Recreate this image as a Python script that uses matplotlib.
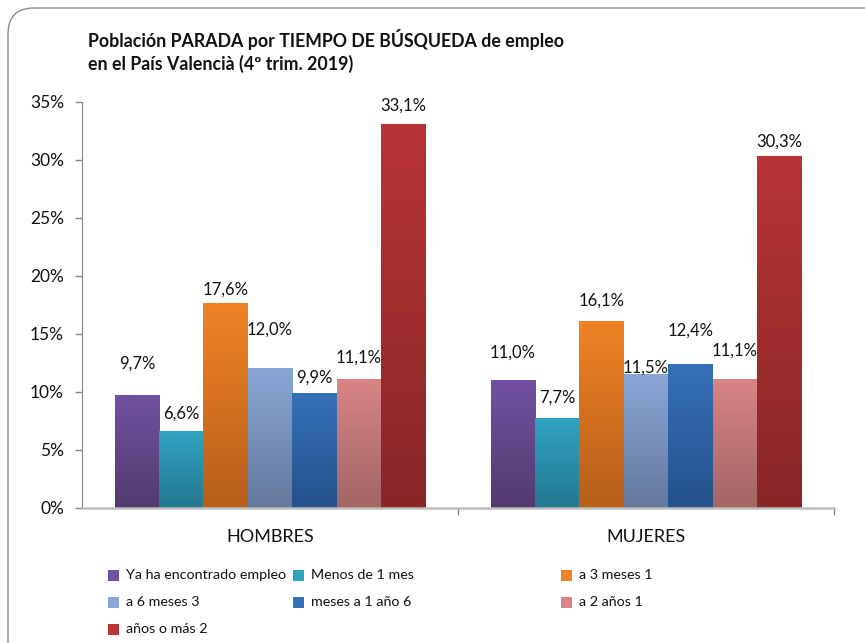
import numpy as np
import matplotlib
matplotlib.use("Agg")
import matplotlib.pyplot as plt
from matplotlib.colors import LinearSegmentedColormap
from matplotlib.patches import FancyBboxPatch, Rectangle

plt.rcParams['font.family'] = ['Lato', 'DejaVu Sans']

# ---- data ----
categories = ["HOMBRES", "MUJERES"]
series = ["Ya ha encontrado empleo", "Menos de 1 mes", "a 3 meses 1",
          "a 6 meses 3", "meses a 1 año 6", "a 2 años 1", "años o más 2"]
hombres = [9.7, 6.6, 17.6, 12.0, 9.9, 11.1, 33.1]
mujeres = [11.0, 7.7, 16.1, 11.5, 12.4, 11.1, 30.3]
yticks = [0, 5, 10, 15, 20, 25, 30, 35]

# ---- style ----
top_colors = ["#7151A1", "#31A3C1", "#F08325", "#8AA7D7", "#3571B9", "#D98585", "#B93434"]
bottom_colors = ["#533A6E", "#237890", "#B65E1A", "#63799C", "#25518A", "#A26565", "#882626"]
# vertical nudges (pixels) of the value labels above each bar
label_dy = [[32, 18, 14, 39, 16, 22, 18],
            [28, 21, 21, 7, 34, 29, 15]]

W, H = 865, 643
fig = plt.figure(figsize=(W / 100, H / 100), dpi=100)

# rounded chart-area border
frame = FancyBboxPatch((8 / W, -0.2), 1.2, (H - 8) / H + 0.2,
                       boxstyle="round,pad=0,rounding_size=0.03",
                       transform=fig.transFigure, fc="none", ec="#8C8C8C", lw=1.0,
                       mutation_aspect=W / H, zorder=-1)
fig.patches.append(frame)

ax = fig.add_axes([82 / W, 1 - 508 / H, (834 - 82) / W, (508 - 102) / H])
ax.set_facecolor("none")

n = len(series)
bw = 0.118
values = [hombres, mujeres]
grad = np.linspace(0, 1, 256)[:, None]
for j in range(n):
    xs = [ci + (j - (n - 1) / 2) * bw for ci in range(len(categories))]
    vals = [values[ci][j] for ci in range(len(categories))]
    bars = ax.bar(xs, vals, width=bw, color="none", zorder=2)
    cmap = LinearSegmentedColormap.from_list(f"g{j}", [bottom_colors[j], top_colors[j]])
    for ci, p in enumerate(bars):
        x0, w, h = p.get_x(), p.get_width(), p.get_height()
        ax.imshow(grad, extent=[x0, x0 + w, 0, h], origin="lower", cmap=cmap,
                  aspect="auto", zorder=2, interpolation="bicubic")
        ax.annotate(f"{vals[ci]:.1f}%".replace(".", ","), (p.get_x() + w / 2, h),
                    xytext=(0, label_dy[ci][j]), textcoords="offset pixels",
                    ha="center", va="center", fontsize=12, color="#111111", zorder=4)

ax.set_xlim(-0.5, len(categories) - 0.5)
ax.set_ylim(0, 35)
ax.set_yticks(yticks)
ax.set_yticklabels([f"{t}%" for t in yticks], fontsize=12.5, color="#111111")
ax.set_xticks([0.5, 1.5])
ax.set_xticklabels([])
for ci, c in enumerate(categories):
    ax.text(ci, -2.5, c, ha="center", va="center", fontsize=13, color="#111111")
ax.tick_params(axis="y", length=5, color="#868686", width=1, pad=8)
ax.tick_params(axis="x", length=5, color="#868686", width=1)
for s in ["top", "right"]:
    ax.spines[s].set_visible(False)
ax.spines["left"].set_color("#868686")
ax.spines["bottom"].set_color("#BDBDBD")
ax.spines["bottom"].set_linewidth(1.8)
ax.spines["bottom"].set_zorder(5)

# title
fig.text(88 / W, 1 - 40 / H, "Población PARADA por TIEMPO DE BÚSQUEDA de empleo",
         fontsize=12.8, fontweight="bold", ha="left", va="center", color="#111111")
fig.text(88 / W, 1 - 64 / H, "en el País Valencià (4º trim. 2019)",
         fontsize=12.8, fontweight="bold", ha="left", va="center", color="#111111")

# legend
col_x = [108, 293, 561]
row_y = [575, 602, 629]
for i, name in enumerate(series):
    cx, ry = col_x[i % 3], row_y[i // 3]
    fig.patches.append(Rectangle((cx / W, 1 - (ry + 5.5) / H), 11 / W, 11 / H,
                                 transform=fig.transFigure,
                                 fc=top_colors[i], ec="none"))
    fig.text((cx + 18) / W, 1 - ry / H, name, fontsize=10.3, ha="left", va="center",
             color="#111111")

fig.savefig("out.png", dpi=100)
